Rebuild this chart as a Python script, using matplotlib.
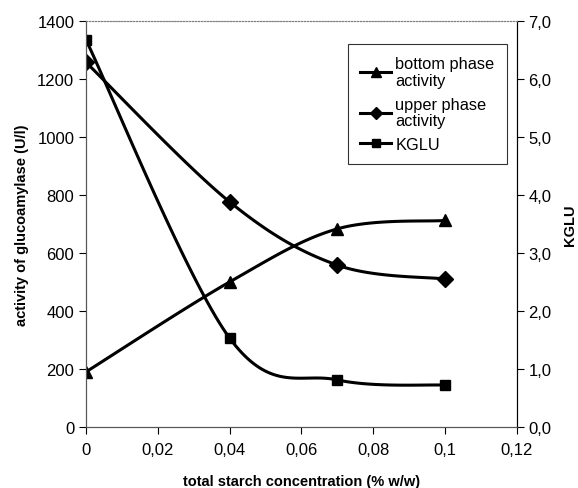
import numpy as np
import matplotlib
matplotlib.use('Agg')
import matplotlib.pyplot as plt
from matplotlib.ticker import FuncFormatter

plt.rcParams['font.family'] = ['Liberation Sans', 'DejaVu Sans']

# data
conc = [0, 0.04, 0.07, 0.1]
bottom_activity = [190, 500, 683, 712]
upper_activity = [1257, 776, 558, 510]
kglu = [6.67, 1.53, 0.81, 0.72]


def smooth(x, y, n=40):
    # Catmull-Rom style smoothing like the spreadsheet "smoothed line"
    x = np.asarray(x, float)
    y = np.asarray(y, float)
    px = np.concatenate([[x[0]], x, [x[-1]]])
    py = np.concatenate([[y[0]], y, [y[-1]]])
    xs, ys = [], []
    t = np.linspace(0, 1, n)
    for i in range(1, len(px) - 2):
        p0 = np.array([px[i], py[i]])
        p3 = np.array([px[i + 1], py[i + 1]])
        p1 = p0 + (np.array([px[i + 1], py[i + 1]]) - np.array([px[i - 1], py[i - 1]])) / 6
        p2 = p3 - (np.array([px[i + 2], py[i + 2]]) - np.array([px[i], py[i]])) / 6
        b = ((1 - t) ** 3)[:, None] * p0 + (3 * (1 - t) ** 2 * t)[:, None] * p1 \
            + (3 * (1 - t) * t ** 2)[:, None] * p2 + (t ** 3)[:, None] * p3
        xs.extend(b[:, 0])
        ys.extend(b[:, 1])
    return xs, ys


fig = plt.figure(figsize=(5.78, 4.89), dpi=100)
ax = fig.add_axes([0.149, 0.125, 0.745, 0.830])
ax2 = ax.twinx()

lw = 2.2
sx, sy = smooth(conc, bottom_activity)
ax.plot(sx, sy, color='black', lw=lw)
ax.plot(conc, bottom_activity, ls='none', marker='^', ms=8, color='black')
sx, sy = smooth(conc, upper_activity)
ax.plot(sx, sy, color='black', lw=lw)
ax.plot(conc, upper_activity, ls='none', marker='D', ms=8, color='black')
sx, sy = smooth(conc, kglu)
ax2.plot(sx, sy, color='black', lw=lw)
ax2.plot(conc, kglu, ls='none', marker='s', ms=7, color='black')

# legend handles
h1, = ax.plot([], [], color='black', lw=lw, marker='^', ms=7, label='bottom phase\nactivity')
h2, = ax.plot([], [], color='black', lw=lw, marker='D', ms=6, label='upper phase\nactivity')
h3, = ax.plot([], [], color='black', lw=lw, marker='s', ms=6, label='KGLU')
leg = ax.legend(handles=[h1, h2, h3], loc='upper left', bbox_to_anchor=(0.608, 0.943),
                borderaxespad=0, fontsize=11.8, frameon=True, fancybox=False,
                handlelength=1.9, handletextpad=0.25, borderpad=0.75, labelspacing=0.55)
leg.get_frame().set_edgecolor('black')
leg.get_frame().set_linewidth(0.8)
for txt in leg.get_texts():
    txt.set_linespacing(1.1)

ax.set_xlim(0, 0.12)
ax.set_ylim(0, 1400)
ax2.set_ylim(0, 7)
ax.set_xticks([0, 0.02, 0.04, 0.06, 0.08, 0.1, 0.12])
ax.set_yticks(range(0, 1401, 200))
ax2.set_yticks(range(0, 8))
ax.xaxis.set_major_formatter(FuncFormatter(lambda v, p: ('%g' % round(v, 2)).replace('.', ',')))
ax2.yaxis.set_major_formatter(FuncFormatter(lambda v, p: ('%.1f' % v).replace('.', ',')))

ax.tick_params(labelsize=12, length=5, direction='out')
ax2.tick_params(labelsize=12, length=5, direction='out')
ax.tick_params(axis='x', pad=6)

ax.set_xlabel('total starch concentration (% w/w)', fontsize=10.5, fontweight='bold', labelpad=12)
ax.set_ylabel('activity of glucoamylase (U/l)', fontsize=10.5, fontweight='bold', labelpad=6)
ax2.set_ylabel('KGLU', fontsize=10.5, fontweight='bold', rotation=90, labelpad=8)

for a in (ax, ax2):
    a.spines['top'].set_color('gray')
    a.spines['top'].set_linestyle(':')
    a.spines['left'].set_color('#555555')
    a.spines['bottom'].set_color('#555555')

fig.savefig('out.png', dpi=100)
